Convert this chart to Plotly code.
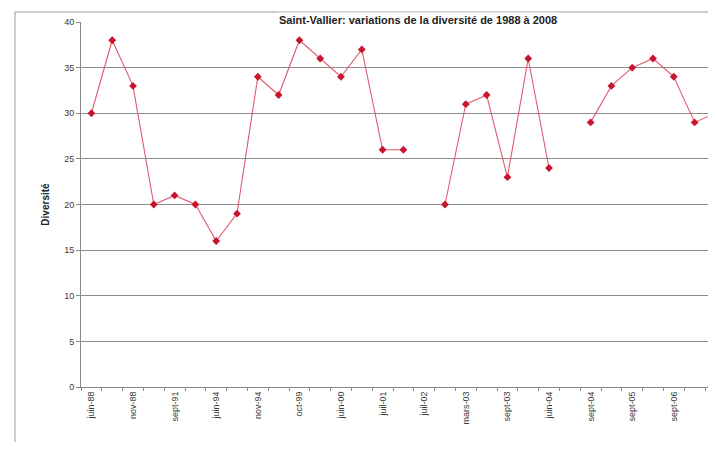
import plotly.graph_objects as go

# Saint-Vallier: diversity per sampling campaign (31 campaigns, labels every other one)
diversite = [30, 38, 33, 20, 21, 20, 16, 19, 34, 32, 38, 36, 34, 37, 26, 26, None,
             20, 31, 32, 23, 36, 24, None, 29, 33, 35, 36, 34, 29, 30]
etiquettes = ["juin-88", None, "nov-88", None, "sept-91", None, "juin-94", None,
              "nov-94", None, "oct-99", None, "juin-00", None, "juil-01", None,
              "juil-02", None, "mars-03", None, "sept-03", None, "juin-04", None,
              "sept-04", None, "sept-05", None, "sept-06", None, "sept-07"]
y_ticks = [0, 5, 10, 15, 20, 25, 30, 35, 40]

idx = list(range(1, len(diversite) + 1))
tick_pos = [i for i, lab in zip(idx, etiquettes) if lab]
tick_txt = [lab for lab in etiquettes if lab]

# page has an 8px body margin, so the figure is a bit smaller than the window
W, H = 700, 434
L, T, B = 73, 14, 55
pw = W - L
ph = H - T - B
step = 20.8  # px per category in the reference
font = "Liberation Sans, Arial, sans-serif"

fig = go.Figure()
fig.add_trace(go.Scatter(
    x=idx, y=diversite, mode="lines+markers", connectgaps=False,
    line=dict(color="#e05a6e", width=1.1),
    marker=dict(symbol="diamond", size=6, color="#c8142e"),
    showlegend=False,
))

# chart-area border (extends past the cropped right edge)
fig.add_shape(type="rect", xref="paper", yref="paper",
              x0=(7 - L) / pw, x1=1.2, y0=-0.5, y1=1 + (T - 4) / ph,
              line=dict(color="#9a9a9a", width=1), layer="below")

fig.add_annotation(
    text="<b>Saint-Vallier: variations de la diversité de 1988 à 2008</b>",
    xref="paper", yref="paper", x=(410 - L) / pw, y=1 + (T - 12) / ph,
    xanchor="center", yanchor="middle", showarrow=False, bgcolor="white",
    font=dict(family=font, size=11, color="#222"), borderpad=1,
)

fig.update_layout(
    width=W, height=H,
    margin=dict(l=L, r=0, t=T, b=B, autoexpand=False),
    paper_bgcolor="white", plot_bgcolor="white",
    font=dict(family=font, size=9, color="#333"),
    xaxis=dict(
        range=[0.5, 0.5 + pw / step], tickmode="array", tickvals=tick_pos, ticktext=tick_txt,
        tickangle=-90, ticks="", showgrid=False, zeroline=False,
        showline=True, linecolor="#8a8a8a", linewidth=1,
        tickfont=dict(size=9, color="#3a3a3a"),
        minor=dict(tickmode="array", tickvals=[i + 0.5 for i in [0] + idx],
                   ticks="outside", ticklen=3, tickcolor="#8a8a8a", showgrid=False),
    ),
    yaxis=dict(
        range=[0, 40], tickmode="array", tickvals=y_ticks,
        showgrid=True, gridcolor="#8c8c8c", gridwidth=1, zeroline=False,
        showline=True, linecolor="#8a8a8a", linewidth=1,
        ticks="outside", ticklen=4, tickcolor="#8a8a8a",
        tickfont=dict(size=9, color="#3a3a3a"),
        title=dict(text="<b>Diversité</b>", font=dict(size=10, color="#222"), standoff=12),
    ),
)

fig.write_html("out.html")
